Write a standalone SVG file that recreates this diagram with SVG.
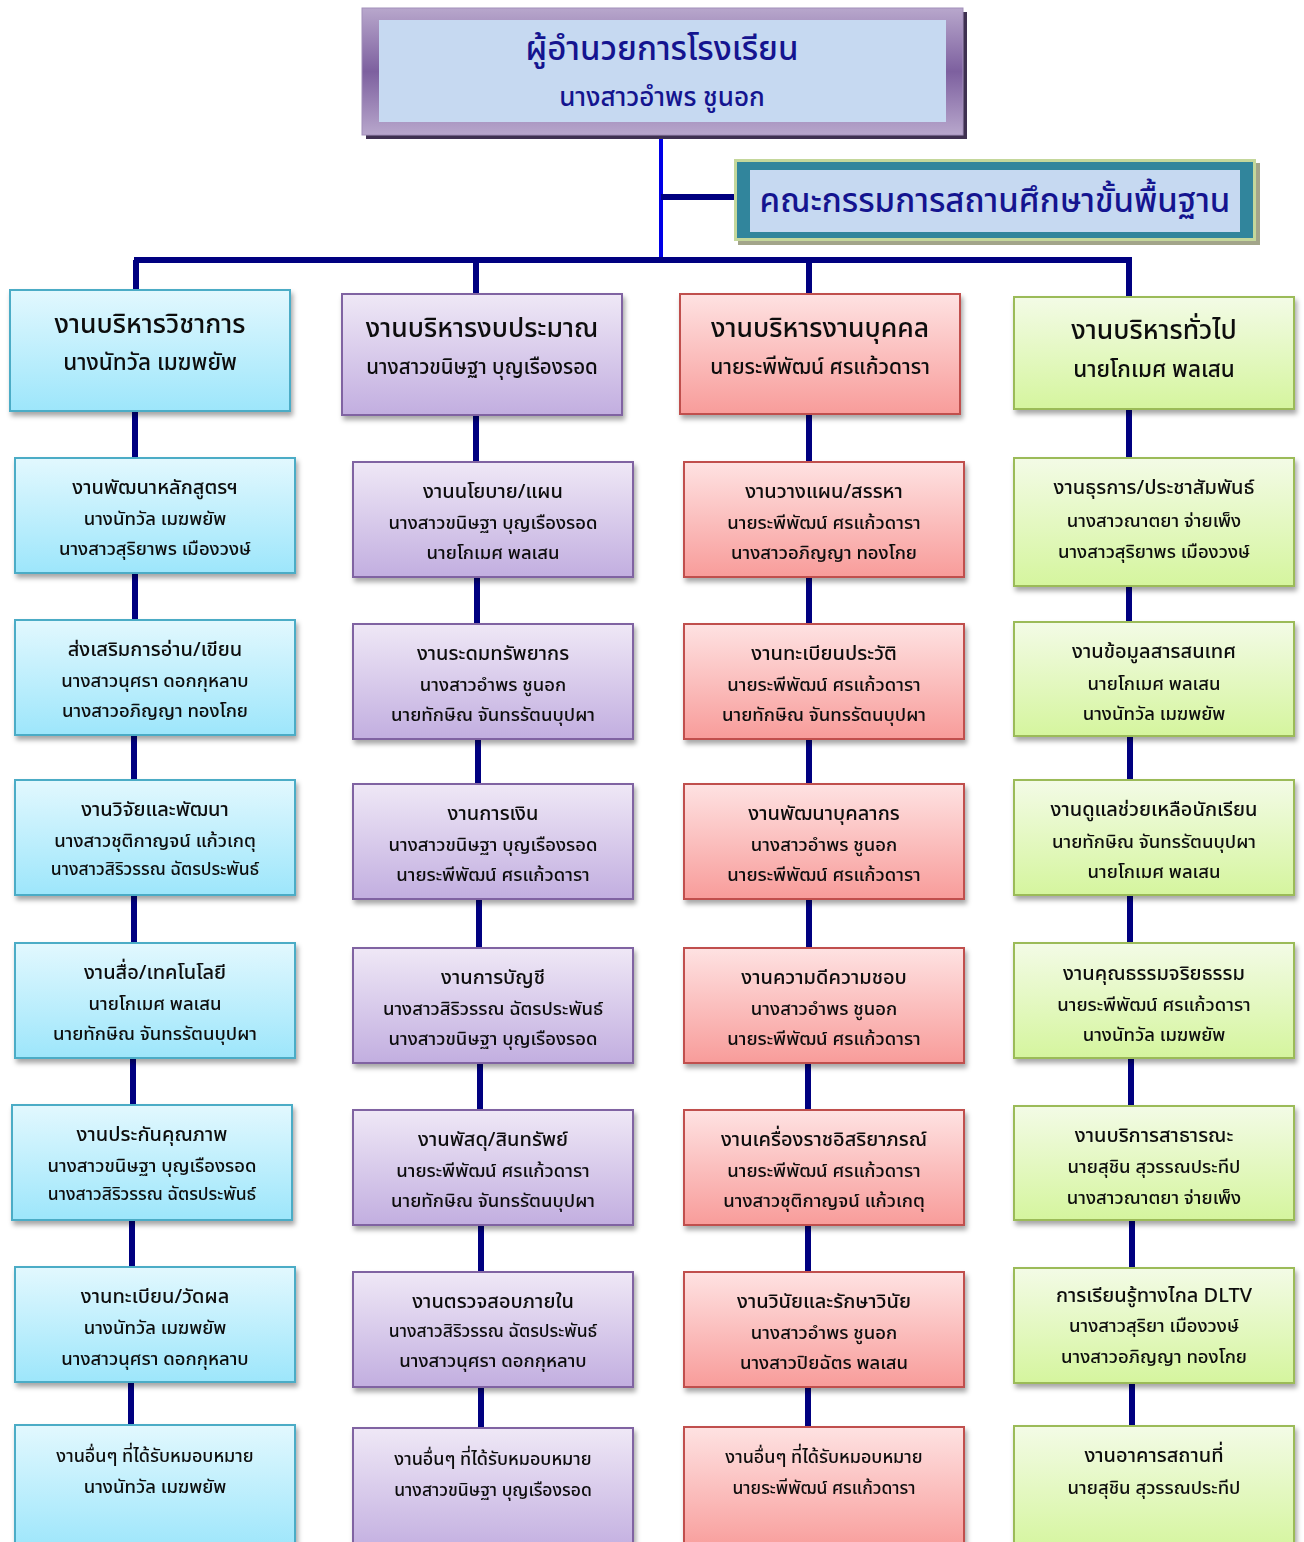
<svg xmlns="http://www.w3.org/2000/svg" width="1304" height="1542" viewBox="0 0 1304 1542">
<defs>
<linearGradient id="gB" x1="0" y1="0" x2="0" y2="1"><stop offset="0" stop-color="#e2f8fe"/><stop offset="1" stop-color="#9de6fb"/></linearGradient>
<linearGradient id="gP" x1="0" y1="0" x2="0" y2="1"><stop offset="0" stop-color="#efe8f6"/><stop offset="1" stop-color="#c2aee0"/></linearGradient>
<linearGradient id="gR" x1="0" y1="0" x2="0" y2="1"><stop offset="0" stop-color="#fee2e2"/><stop offset="1" stop-color="#f89c9a"/></linearGradient>
<linearGradient id="gG" x1="0" y1="0" x2="0" y2="1"><stop offset="0" stop-color="#f3fbe6"/><stop offset="1" stop-color="#d5f59e"/></linearGradient>
<linearGradient id="gTop" x1="0" y1="0" x2="0" y2="1"><stop offset="0" stop-color="#b8a7cc"/><stop offset="0.5" stop-color="#7d609f"/><stop offset="1" stop-color="#b8a7cc"/></linearGradient>
<filter id="sh" x="-10%" y="-10%" width="130%" height="130%"><feDropShadow dx="2" dy="4" stdDeviation="2.5" flood-color="#000" flood-opacity="0.35"/></filter>
</defs>
<style>
text{font-family:"Noto Sans Thai","Noto Sans","DejaVu Sans","Liberation Sans",sans-serif;text-anchor:middle;dominant-baseline:central;fill:#0d0d0d;font-weight:500}
.b{fill:url(#gB);stroke:#4bacc6;stroke-width:2}
.p{fill:url(#gP);stroke:#8064a2;stroke-width:2}
.r{fill:url(#gR);stroke:#c0504d;stroke-width:2}
.g{fill:url(#gG);stroke:#9bbb59;stroke-width:2}
.box{filter:url(#sh)}
.h1{font-size:26.5px}
.h2{font-size:22.5px}
.t1{font-size:20px}
.t2{font-size:18.5px}
.o{font-size:18px}
.con{stroke:#000080;stroke-width:6;fill:none}
.navy{fill:#14148f}
</style>

<g id="connectors">
<line x1="661" y1="134" x2="661" y2="262" stroke="#0000e6" stroke-width="4"/>
<line x1="661" y1="197" x2="736" y2="197" class="con"/>
<line x1="134" y1="260" x2="1132" y2="260" class="con"/>
<line x1="136" y1="260" x2="136" y2="290" class="con"/>
<line x1="476" y1="260" x2="476" y2="294" class="con"/>
<line x1="809" y1="260" x2="809" y2="294" class="con"/>
<line x1="1129" y1="260" x2="1129" y2="297" class="con"/>
<path class="con" d="M135 411V458M135 573V620M134 735V780M134 895V943M133 1058V1105M132 1220V1267M131 1382V1425"/>
<path class="con" d="M476 415V462M477 577V624M478 739V784M479 899V948M480 1063V1110M481 1225V1272M481 1387V1428"/>
<path class="con" d="M809 414V462M809 577V624M809 739V784M809 899V948M808 1063V1110M808 1225V1272M808 1387V1427"/>
<path class="con" d="M1129 409V458M1129 586V622M1130 736V780M1130 895V943M1131 1058V1106M1132 1220V1268M1132 1383V1426"/>
</g>

<g id="director">
<rect x="366" y="12" width="601" height="127" fill="#3f3151"/>
<rect x="362" y="8" width="601" height="127" fill="url(#gTop)" stroke="#a28fba" stroke-width="1"/>
<rect x="379" y="20" width="567" height="102" fill="#c6d9f1"/>
<text x="662" y="50" class="navy" style="font-size:33px">ผู้อำนวยการโรงเรียน</text>
<text x="662" y="98" class="navy" style="font-size:26px">นางสาวอำพร ชูนอก</text>
</g>

<g id="committee">
<rect x="738" y="163" width="522" height="82" fill="#a3a58a"/>
<rect x="734" y="159" width="522" height="82" fill="#c4d79b"/>
<rect x="737" y="162" width="516" height="76" fill="#31859c"/>
<rect x="750" y="170" width="490" height="62" fill="#c6d9f1"/>
<text x="995" y="202" class="navy" style="font-size:33px">คณะกรรมการสถานศึกษาขั้นพื้นฐาน</text>
</g>

<!-- Column 1 -->
<g id="c1h" class="box"><rect class="b" x="10" y="290" width="280" height="121"/><text x="150" y="325" class="h1">งานบริหารวิชาการ</text><text x="150" y="363" class="h2">นางนัทวัล เมฆพยัพ</text></g>
<g id="c1r1" class="box"><rect class="b" x="15" y="458" width="280" height="115"/><text x="155" y="488" class="t1">งานพัฒนาหลักสูตรฯ</text><text x="155" y="519" class="t2">นางนัทวัล เมฆพยัพ</text><text x="155" y="549" class="t2">นางสาวสุริยาพร เมืองวงษ์</text></g>
<g id="c1r2" class="box"><rect class="b" x="15" y="620" width="280" height="115"/><text x="155" y="650" class="t1">ส่งเสริมการอ่าน/เขียน</text><text x="155" y="681" class="t2">นางสาวนุศรา ดอกกุหลาบ</text><text x="155" y="711" class="t2">นางสาวอภิญญา ทองโกย</text></g>
<g id="c1r3" class="box"><rect class="b" x="15" y="780" width="280" height="115"/><text x="155" y="810" class="t1">งานวิจัยและพัฒนา</text><text x="155" y="841" class="t2">นางสาวชุติกาญจน์ แก้วเกตุ</text><text x="155" y="869" class="t2" style="font-size:17.5px">นางสาวสิริวรรณ ฉัตรประพันธ์</text></g>
<g id="c1r4" class="box"><rect class="b" x="15" y="943" width="280" height="115"/><text x="155" y="973" class="t1">งานสื่อ/เทคโนโลยี</text><text x="155" y="1004" class="t2">นายโกเมศ พลเสน</text><text x="155" y="1034" class="t2">นายทักษิณ จันทรรัตนบุปผา</text></g>
<g id="c1r5" class="box"><rect class="b" x="12" y="1105" width="280" height="115"/><text x="152" y="1135" class="t1">งานประกันคุณภาพ</text><text x="152" y="1166" class="t2">นางสาวขนิษฐา บุญเรืองรอด</text><text x="152" y="1194" class="t2" style="font-size:17.5px">นางสาวสิริวรรณ ฉัตรประพันธ์</text></g>
<g id="c1r6" class="box"><rect class="b" x="15" y="1267" width="280" height="115"/><text x="155" y="1297" class="t1">งานทะเบียน/วัดผล</text><text x="155" y="1328" class="t2">นางนัทวัล เมฆพยัพ</text><text x="155" y="1359" class="t2">นางสาวนุศรา ดอกกุหลาบ</text></g>
<g id="c1r7" class="box"><rect class="b" x="15" y="1425" width="280" height="125"/><text x="155" y="1456" class="t1 o">งานอื่นๆ ที่ได้รับหมอบหมาย</text><text x="155" y="1487" class="t2">นางนัทวัล เมฆพยัพ</text></g>

<!-- Column 2 -->
<g id="c2h" class="box"><rect class="p" x="342" y="294" width="280" height="121"/><text x="482" y="329" class="h1">งานบริหารงบประมาณ</text><text x="482" y="367" class="h2" style="font-size:20.5px">นางสาวขนิษฐา บุญเรืองรอด</text></g>
<g id="c2r1" class="box"><rect class="p" x="353" y="462" width="280" height="115"/><text x="493" y="492" class="t1">งานนโยบาย/แผน</text><text x="493" y="523" class="t2">นางสาวขนิษฐา บุญเรืองรอด</text><text x="493" y="553" class="t2">นายโกเมศ พลเสน</text></g>
<g id="c2r2" class="box"><rect class="p" x="353" y="624" width="280" height="115"/><text x="493" y="654" class="t1">งานระดมทรัพยากร</text><text x="493" y="685" class="t2">นางสาวอำพร ชูนอก</text><text x="493" y="715" class="t2">นายทักษิณ จันทรรัตนบุปผา</text></g>
<g id="c2r3" class="box"><rect class="p" x="353" y="784" width="280" height="115"/><text x="493" y="814" class="t1">งานการเงิน</text><text x="493" y="845" class="t2">นางสาวขนิษฐา บุญเรืองรอด</text><text x="493" y="875" class="t2">นายระพีพัฒน์ ศรแก้วดารา</text></g>
<g id="c2r4" class="box"><rect class="p" x="353" y="948" width="280" height="115"/><text x="493" y="978" class="t1">งานการบัญชี</text><text x="493" y="1009" class="t2">นางสาวสิริวรรณ ฉัตรประพันธ์</text><text x="493" y="1039" class="t2">นางสาวขนิษฐา บุญเรืองรอด</text></g>
<g id="c2r5" class="box"><rect class="p" x="353" y="1110" width="280" height="115"/><text x="493" y="1140" class="t1">งานพัสดุ/สินทรัพย์</text><text x="493" y="1171" class="t2">นายระพีพัฒน์ ศรแก้วดารา</text><text x="493" y="1201" class="t2">นายทักษิณ จันทรรัตนบุปผา</text></g>
<g id="c2r6" class="box"><rect class="p" x="353" y="1272" width="280" height="115"/><text x="493" y="1302" class="t1">งานตรวจสอบภายใน</text><text x="493" y="1331" class="t2" style="font-size:17.5px">นางสาวสิริวรรณ ฉัตรประพันธ์</text><text x="493" y="1361" class="t2">นางสาวนุศรา ดอกกุหลาบ</text></g>
<g id="c2r7" class="box"><rect class="p" x="353" y="1428" width="280" height="125"/><text x="493" y="1459" class="t1 o">งานอื่นๆ ที่ได้รับหมอบหมาย</text><text x="493" y="1490" class="t2" style="font-size:17.5px">นางสาวขนิษฐา บุญเรืองรอด</text></g>

<!-- Column 3 -->
<g id="c3h" class="box"><rect class="r" x="680" y="294" width="280" height="120"/><text x="820" y="329" class="h1">งานบริหารงานบุคคล</text><text x="820" y="367" class="h2" style="font-size:21px">นายระพีพัฒน์ ศรแก้วดารา</text></g>
<g id="c3r1" class="box"><rect class="r" x="684" y="462" width="280" height="115"/><text x="824" y="492" class="t1">งานวางแผน/สรรหา</text><text x="824" y="523" class="t2">นายระพีพัฒน์ ศรแก้วดารา</text><text x="824" y="553" class="t2">นางสาวอภิญญา ทองโกย</text></g>
<g id="c3r2" class="box"><rect class="r" x="684" y="624" width="280" height="115"/><text x="824" y="654" class="t1">งานทะเบียนประวัติ</text><text x="824" y="685" class="t2">นายระพีพัฒน์ ศรแก้วดารา</text><text x="824" y="715" class="t2">นายทักษิณ จันทรรัตนบุปผา</text></g>
<g id="c3r3" class="box"><rect class="r" x="684" y="784" width="280" height="115"/><text x="824" y="814" class="t1">งานพัฒนาบุคลากร</text><text x="824" y="845" class="t2">นางสาวอำพร ชูนอก</text><text x="824" y="875" class="t2">นายระพีพัฒน์ ศรแก้วดารา</text></g>
<g id="c3r4" class="box"><rect class="r" x="684" y="948" width="280" height="115"/><text x="824" y="978" class="t1">งานความดีความชอบ</text><text x="824" y="1009" class="t2">นางสาวอำพร ชูนอก</text><text x="824" y="1039" class="t2">นายระพีพัฒน์  ศรแก้วดารา</text></g>
<g id="c3r5" class="box"><rect class="r" x="684" y="1110" width="280" height="115"/><text x="824" y="1140" class="t1">งานเครื่องราชอิสริยาภรณ์</text><text x="824" y="1171" class="t2">นายระพีพัฒน์ ศรแก้วดารา</text><text x="824" y="1201" class="t2">นางสาวชุติกาญจน์ แก้วเกตุ</text></g>
<g id="c3r6" class="box"><rect class="r" x="684" y="1272" width="280" height="115"/><text x="824" y="1302" class="t1">งานวินัยและรักษาวินัย</text><text x="824" y="1333" class="t2">นางสาวอำพร ชูนอก</text><text x="824" y="1363" class="t2">นางสาวปิยฉัตร พลเสน</text></g>
<g id="c3r7" class="box"><rect class="r" x="684" y="1427" width="280" height="125"/><text x="824" y="1457" class="t1 o">งานอื่นๆ ที่ได้รับหมอบหมาย</text><text x="824" y="1488" class="t2" style="font-size:17.5px">นายระพีพัฒน์ ศรแก้วดารา</text></g>

<!-- Column 4 -->
<g id="c4h" class="box"><rect class="g" x="1014" y="297" width="280" height="112"/><text x="1154" y="331" class="h1">งานบริหารทั่วไป</text><text x="1154" y="370" class="h2">นายโกเมศ พลเสน</text></g>
<g id="c4r1" class="box"><rect class="g" x="1014" y="458" width="280" height="128"/><text x="1154" y="488" class="t1">งานธุรการ/ประชาสัมพันธ์</text><text x="1154" y="521" class="t2">นางสาวณาตยา จ่ายเพ็ง</text><text x="1154" y="552" class="t2">นางสาวสุริยาพร  เมืองวงษ์</text></g>
<g id="c4r2" class="box"><rect class="g" x="1014" y="622" width="280" height="114"/><text x="1154" y="652" class="t1">งานข้อมูลสารสนเทศ</text><text x="1154" y="684" class="t2">นายโกเมศ พลเสน</text><text x="1154" y="714" class="t2">นางนัทวัล เมฆพยัพ</text></g>
<g id="c4r3" class="box"><rect class="g" x="1014" y="780" width="280" height="115"/><text x="1154" y="810" class="t1">งานดูแลช่วยเหลือนักเรียน</text><text x="1154" y="842" class="t2">นายทักษิณ จันทรรัตนบุปผา</text><text x="1154" y="872" class="t2">นายโกเมศ  พลเสน</text></g>
<g id="c4r4" class="box"><rect class="g" x="1014" y="943" width="280" height="115"/><text x="1154" y="974" class="t1">งานคุณธรรมจริยธรรม</text><text x="1154" y="1005" class="t2">นายระพีพัฒน์ ศรแก้วดารา</text><text x="1154" y="1035" class="t2">นางนัทวัล เมฆพยัพ</text></g>
<g id="c4r5" class="box"><rect class="g" x="1014" y="1106" width="280" height="114"/><text x="1154" y="1136" class="t1">งานบริการสาธารณะ</text><text x="1154" y="1167" class="t2">นายสุชิน สุวรรณประทีป</text><text x="1154" y="1198" class="t2">นางสาวณาตยา จ่ายเพ็ง</text></g>
<g id="c4r6" class="box"><rect class="g" x="1014" y="1268" width="280" height="115"/><text x="1154" y="1296" class="t1">การเรียนรู้ทางไกล DLTV</text><text x="1154" y="1326" class="t2">นางสาวสุริยา เมืองวงษ์</text><text x="1154" y="1357" class="t2">นางสาวอภิญญา ทองโกย</text></g>
<g id="c4r7" class="box"><rect class="g" x="1014" y="1426" width="280" height="125"/><text x="1154" y="1456" class="t1">งานอาคารสถานที่</text><text x="1154" y="1488" class="t2">นายสุชิน สุวรรณประทีป</text></g>
</svg>
